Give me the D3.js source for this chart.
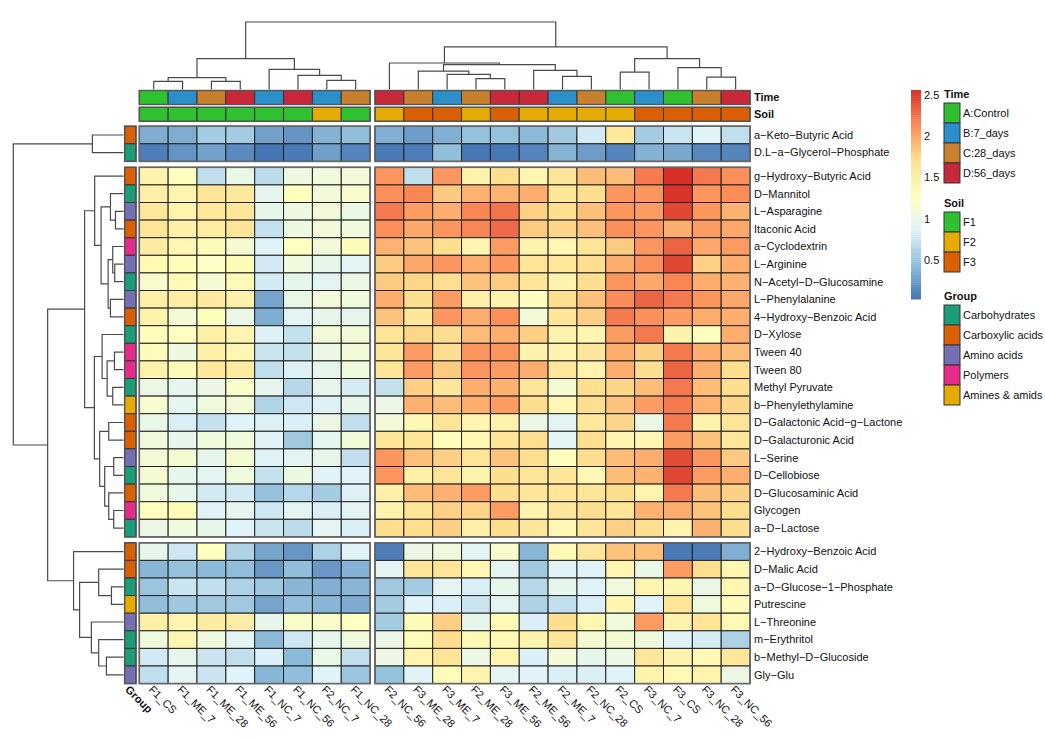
<!DOCTYPE html>
<html>
<head>
<meta charset="utf-8">
<script src="https://cdn.jsdelivr.net/npm/d3@7"></script>
<style>
  body { margin: 0; background: #fff; }
  text { font-family: "Liberation Sans", Arial, sans-serif; fill: #111; }
</style>
</head>
<body>
<svg id="chart" width="1045" height="740"></svg>
<script>
// ---- data -------------------------------------------------------------
const samples = ["F1_CS","F1_ME_7","F1_ME_28","F1_ME_56","F1_NC_7","F1_NC_56","F2_NC_7","F1_NC_28",
  "F2_NC_56","F3_ME_28","F3_ME_7","F2_ME_28","F3_ME_56","F2_ME_56","F2_ME_7","F2_NC_28","F2_CS",
  "F3_NC_7","F3_CS","F3_NC_28","F3_NC_56"];
const sampleTime = ["A:Control","B:7_days","C:28_days","D:56_days","B:7_days","D:56_days","B:7_days","C:28_days",
  "D:56_days","C:28_days","B:7_days","C:28_days","D:56_days","D:56_days","B:7_days","C:28_days","A:Control",
  "B:7_days","A:Control","C:28_days","D:56_days"];
const sampleSoil = ["F1","F1","F1","F1","F1","F1","F2","F1",
  "F2","F3","F3","F2","F3","F2","F2","F2","F2","F3","F3","F3","F3"];

const substrates = ["a-Keto-Butyric Acid","D.L-a-Glycerol-Phosphate",
  "g-Hydroxy-Butyric Acid","D-Mannitol","L-Asparagine","Itaconic Acid","a-Cyclodextrin","L-Arginine",
  "N-Acetyl-D-Glucosamine","L-Phenylalanine","4-Hydroxy-Benzoic Acid","D-Xylose","Tween 40","Tween 80",
  "Methyl Pyruvate","b-Phenylethylamine","D-Galactonic Acid-g-Lactone","D-Galacturonic Acid","L-Serine",
  "D-Cellobiose","D-Glucosaminic Acid","Glycogen","a-D-Lactose",
  "2-Hydroxy-Benzoic Acid","D-Malic Acid","a-D-Glucose-1-Phosphate","Putrescine","L-Threonine",
  "m-Erythritol","b-Methyl-D-Glucoside","Gly-Glu"];
const substrateGroup = ["Carboxylic acids","Carbohydrates",
  "Carboxylic acids","Carbohydrates","Amino acids","Carboxylic acids","Polymers","Amino acids",
  "Carbohydrates","Amino acids","Carboxylic acids","Carbohydrates","Polymers","Polymers",
  "Carbohydrates","Amines & amids","Carboxylic acids","Carboxylic acids","Amino acids",
  "Carbohydrates","Carboxylic acids","Polymers","Carbohydrates",
  "Carboxylic acids","Carboxylic acids","Carbohydrates","Amines & amids","Amino acids",
  "Carbohydrates","Carbohydrates","Amino acids"];

// one row per substrate, one column per sample (same order as `samples`)
const values = [
  [0.35,0.35,0.55,0.55,0.28,0.20,0.38,0.45, 0.36,0.25,0.36,0.47,0.47,0.42,0.53,0.80,1.60,0.55,0.75,0.88,0.70],
  [0.08,0.20,0.28,0.15,0.03,0.06,0.27,0.12, 0.06,0.08,0.45,0.04,0.04,0.12,0.39,0.25,0.12,0.38,0.32,0.14,0.12],
  [1.45,1.30,0.70,1.00,0.68,1.05,1.08,1.10, 2.10,0.70,2.10,1.45,1.72,1.42,1.65,1.90,1.90,2.22,2.56,2.23,2.13],
  [1.50,1.45,1.65,1.60,0.95,1.30,1.10,1.20, 2.13,2.17,1.83,1.95,1.95,1.97,1.65,1.72,2.10,2.10,2.54,2.10,2.14],
  [1.63,1.45,1.63,1.63,0.97,1.05,1.10,1.00, 2.23,2.06,1.97,2.17,2.25,1.80,1.72,1.88,2.10,2.06,2.45,2.10,1.95],
  [1.65,1.48,1.55,1.65,0.72,1.05,1.10,1.08, 2.13,2.00,2.10,2.17,2.30,1.83,1.77,1.88,2.13,2.10,1.97,2.06,2.00],
  [1.55,1.40,1.35,1.15,0.87,1.28,1.10,1.33, 1.95,1.87,1.72,1.42,2.06,1.45,1.40,1.65,1.83,2.10,2.32,2.00,2.06],
  [1.38,1.35,1.25,1.35,0.80,1.07,0.97,0.90, 1.83,2.00,2.10,1.97,2.10,1.65,1.62,1.72,1.97,2.13,2.45,1.80,1.97],
  [1.20,1.37,1.15,1.38,0.80,0.97,0.92,1.02, 1.83,1.77,1.72,1.87,1.83,1.65,1.45,1.72,2.10,2.00,2.17,1.97,1.95],
  [1.50,1.53,1.58,1.48,0.30,1.00,1.10,1.08, 1.97,1.72,2.06,1.50,1.45,1.30,1.72,1.88,2.14,2.32,2.23,2.10,2.00],
  [1.47,1.12,1.32,1.02,0.35,0.90,0.98,0.96, 1.87,1.62,2.10,1.97,2.13,1.12,1.65,1.80,2.22,2.13,2.06,1.97,1.97],
  [1.32,1.28,1.50,1.43,0.86,0.72,1.10,1.12, 1.65,1.77,1.72,1.90,1.97,1.80,1.45,1.42,2.06,2.23,1.45,1.30,1.97],
  [1.35,1.05,1.50,1.42,0.76,0.72,1.02,1.12, 1.65,2.06,1.72,2.10,2.10,1.45,1.45,1.62,1.97,1.80,2.23,1.97,1.90],
  [1.47,1.35,1.60,1.55,0.70,0.85,0.96,1.08, 1.65,2.06,1.83,2.10,2.06,1.97,1.62,1.45,1.97,1.72,2.32,1.97,1.72],
  [1.02,0.95,1.02,1.22,0.95,0.65,0.96,0.82, 0.72,1.80,1.62,1.97,1.95,1.65,1.15,1.72,1.77,1.90,2.23,1.90,1.72],
  [1.17,0.94,1.08,1.12,0.62,0.78,0.86,0.98, 1.02,1.95,1.90,1.97,2.06,1.72,1.40,1.72,1.87,2.06,2.23,1.95,1.77],
  [1.00,0.84,0.73,0.87,0.85,0.84,1.02,0.70, 1.12,1.38,1.65,1.42,1.45,1.02,0.92,1.60,1.77,1.02,2.23,1.45,1.65],
  [1.08,0.97,1.08,1.08,0.89,0.53,0.93,1.12, 1.65,1.65,1.30,1.40,1.65,1.72,0.92,1.72,1.42,1.42,2.06,1.87,1.62],
  [1.12,1.15,0.97,1.15,0.87,0.92,0.97,0.70, 2.10,1.88,1.80,1.65,1.87,1.72,1.30,1.72,1.90,1.97,2.43,2.10,1.83],
  [1.15,0.97,0.92,1.08,0.72,1.05,0.87,0.87, 2.10,1.50,1.65,1.45,1.72,1.65,1.62,1.40,1.90,1.95,2.45,2.06,1.97],
  [1.08,0.97,0.80,0.80,0.48,0.65,0.55,0.86, 1.50,1.90,1.95,2.06,1.72,1.65,1.65,1.65,1.72,1.45,2.23,1.90,1.80],
  [1.30,1.33,0.87,0.95,0.78,0.92,0.84,0.92, 1.45,1.65,1.80,1.77,2.06,1.45,1.62,1.72,1.65,1.95,1.97,1.87,1.72],
  [1.02,1.08,0.97,0.87,0.76,0.68,0.92,0.84, 1.72,1.72,1.80,1.50,1.72,1.62,1.40,1.65,1.80,1.72,1.45,1.95,1.72],
  [0.97,0.78,1.30,0.60,0.30,0.22,0.60,0.87, 0.08,1.02,1.08,0.92,1.20,0.40,1.38,1.62,1.87,1.88,0.05,0.07,0.36],
  [0.40,0.47,0.42,0.45,0.23,0.45,0.23,0.38, 0.92,1.65,1.65,1.40,0.92,0.53,0.87,0.87,1.42,1.00,2.06,1.72,1.42],
  [0.50,0.76,0.70,0.60,0.52,0.40,0.36,0.40, 0.53,0.55,0.92,0.84,0.97,0.65,0.97,0.87,1.08,1.42,1.42,1.02,1.42],
  [0.45,0.52,0.53,0.53,0.30,0.45,0.40,0.34, 0.55,0.87,0.84,0.76,0.92,0.60,0.70,0.84,1.42,0.87,1.65,1.08,1.35],
  [1.50,1.44,1.55,1.53,0.97,1.22,1.22,1.27, 0.55,1.35,1.80,0.97,1.38,0.84,1.72,1.42,1.08,2.06,1.45,1.65,1.38],
  [1.08,1.42,1.08,0.92,0.42,0.78,0.97,1.08, 1.02,1.35,1.72,1.38,1.38,1.45,1.65,1.15,1.15,1.08,0.87,0.82,0.60],
  [0.80,0.97,0.76,0.70,0.84,0.42,1.00,0.70, 1.02,1.45,1.65,1.02,1.45,0.84,1.12,0.97,1.02,1.62,1.45,1.38,1.62],
  [0.70,0.92,0.76,0.87,0.40,0.45,0.87,0.50, 0.47,0.87,1.35,1.45,0.92,0.87,0.84,0.84,0.87,1.45,1.38,1.45,1.02]
];

// hierarchical clustering results: [height, left, right]; numbers are leaf indices
const colTree = [67,
  [30.7, [11.7, [8, 0, 1], [8, 2, 3]], [20, 4, [14, 5, [9, 6, 7]]]],
  [42.3,
    [26.3, 8, [24.7, [18.3, 9, [15, 10, [10.7, 11, 12]]], [19, 13, [13, 14, 15]]]],
    [30.7, [17.3, 16, 17], [21.7, 18, [12.3, 19, 20]]]]];
const rowTree = [109.7,
  [31, 0, 1],
  [75.5,
    [38.7,
      [28.7, 2, [22.3, [13, 3, [8, 4, 5]], [15.3, [10.7, 6, [8.7, 7, 8]], [13, 9, 10]]]],
      [29, [21.3, 11, [16.3, [9, 12, 13], [10.7, 14, 15]]],
           [23.7, [14.7, 16, 17], [18.7, [9.7, 18, 19], [14.7, 20, [9.7, 21, 22]]]]]],
    [49.7, 23, [43.7, [24.7, 24, [12, 25, 26]], [32, 27, [24.7, 28, [17, 29, 30]]]]]]];

const colGapsAfter = [8];
const rowGapsAfter = [2, 23];

const timeLevels = ["A:Control","B:7_days","C:28_days","D:56_days"];
const timeColors = ["#2fc12f","#2b8fca","#c9802e","#c8283a"];
const soilLevels = ["F1","F2","F3"];
const soilColors = ["#2fc12f","#e6ab02","#d95f02"];
const groupLevels = ["Carbohydrates","Carboxylic acids","Amino acids","Polymers","Amines & amids"];
const groupColors = ["#1b9e77","#d95f02","#7570b3","#e7298a","#e6ab02"];
const paletteStops = ["#4575B4","#91BFDB","#E0F3F8","#FFFFBF","#FEE090","#FC8D59","#D73027"];
const legendTicks = [0.5, 1, 1.5, 2, 2.5];

// ---- layout -----------------------------------------------------------
const svg = d3.select("#chart");
const cellW = 28.85, cellH = 17.6;
const x0 = 139.3, y0 = 126.2, colGap = 4.9, rowGap = 5.9;
const nCol = samples.length, nRow = substrates.length;
const minus = s => s.replace(/-/g, "\u2212");

const colX = j => x0 + j * cellW + colGapsAfter.filter(g => j >= g).length * colGap;
const rowY = i => y0 + i * cellH + rowGapsAfter.filter(g => i >= g).length * rowGap;

const extent = d3.extent(values.flat());
const color = d3.scaleLinear()
  .domain(paletteStops.map((_, k) => extent[0] + k * (extent[1] - extent[0]) / (paletteStops.length - 1)))
  .range(paletteStops)
  .interpolate(d3.interpolateRgb);

function blocks(n, gaps) {
  const cuts = [0, ...gaps, n];
  return d3.range(cuts.length - 1).map(k => [cuts[k], cuts[k + 1]]);
}
const colBlocks = blocks(nCol, colGapsAfter);
const rowBlocks = blocks(nRow, rowGapsAfter);

// ---- heatmap cells ----------------------------------------------------
const cells = svg.append("g");
values.forEach((row, i) => {
  row.forEach((v, j) => {
    cells.append("rect")
      .attr("x", colX(j)).attr("y", rowY(i))
      .attr("width", cellW).attr("height", cellH)
      .attr("fill", color(v))
      .attr("stroke", "#222").attr("stroke-width", 1);
  });
});
rowBlocks.forEach(([r0, r1]) => colBlocks.forEach(([c0, c1]) => {
  svg.append("rect")
    .attr("x", colX(c0)).attr("y", rowY(r0))
    .attr("width", colX(c1 - 1) + cellW - colX(c0))
    .attr("height", rowY(r1 - 1) + cellH - rowY(r0))
    .attr("fill", "none").attr("stroke", "#666").attr("stroke-width", 1.6);
}));

// ---- column annotations (Time, Soil) -----------------------------------
const timeColor = d3.scaleOrdinal(timeLevels, timeColors);
const soilColor = d3.scaleOrdinal(soilLevels, soilColors);
const annTracks = [
  { name: "Time", y: 90.5, h: 14, fill: j => timeColor(sampleTime[j]) },
  { name: "Soil", y: 107.3, h: 14, fill: j => soilColor(sampleSoil[j]) }
];
annTracks.forEach(t => {
  samples.forEach((s, j) => {
    svg.append("rect")
      .attr("x", colX(j)).attr("y", t.y).attr("width", cellW).attr("height", t.h)
      .attr("fill", t.fill(j)).attr("stroke", "#333").attr("stroke-width", 1);
  });
  colBlocks.forEach(([c0, c1]) => {
    svg.append("rect")
      .attr("x", colX(c0)).attr("y", t.y)
      .attr("width", colX(c1 - 1) + cellW - colX(c0)).attr("height", t.h)
      .attr("fill", "none").attr("stroke", "#555").attr("stroke-width", 1.4);
  });
  svg.append("text")
    .attr("x", 754).attr("y", t.y + t.h / 2).attr("dy", "0.35em")
    .attr("font-size", 11).attr("font-weight", "bold").text(t.name);
});

// ---- row annotation (Group) --------------------------------------------
const groupColor = d3.scaleOrdinal(groupLevels, groupColors);
const gx = 124.6, gw = 11.4;
substrates.forEach((s, i) => {
  svg.append("rect")
    .attr("x", gx).attr("y", rowY(i)).attr("width", gw).attr("height", cellH)
    .attr("fill", groupColor(substrateGroup[i])).attr("stroke", "#333").attr("stroke-width", 1);
});
rowBlocks.forEach(([r0, r1]) => {
  svg.append("rect")
    .attr("x", gx).attr("y", rowY(r0)).attr("width", gw)
    .attr("height", rowY(r1 - 1) + cellH - rowY(r0))
    .attr("fill", "none").attr("stroke", "#555").attr("stroke-width", 1.4);
});

// ---- labels -------------------------------------------------------------
svg.append("g").selectAll("text").data(substrates).join("text")
  .attr("x", 754).attr("y", (d, i) => rowY(i) + cellH / 2).attr("dy", "0.35em")
  .attr("font-size", 11).text(d => minus(d));

const labelTop = rowY(nRow - 1) + cellH + 4;
svg.append("g").selectAll("text").data(samples).join("text")
  .attr("transform", (d, j) => `translate(${colX(j) + cellW / 2 - 3},${labelTop}) rotate(45)`)
  .attr("dy", "0.35em").attr("font-size", 11).text(d => d);
svg.append("text")
  .attr("transform", `translate(${gx + gw / 2 - 3},${labelTop}) rotate(45)`)
  .attr("dy", "0.35em").attr("font-size", 11).attr("font-weight", "bold").text("Group");

// ---- dendrograms ----------------------------------------------------------
const treeG = svg.append("g").attr("fill", "none").attr("stroke", "#4a4a4a").attr("stroke-width", 1.2);
function drawTree(node, leafPos, hs, horizontal) {
  if (typeof node === "number") return { p: leafPos(node), h: 0 };
  const [h, a, b] = node;
  const A = drawTree(a, leafPos, hs, horizontal);
  const B = drawTree(b, leafPos, hs, horizontal);
  const d = horizontal
    ? `M${hs(A.h)},${A.p}H${hs(h)}V${B.p}H${hs(B.h)}`
    : `M${A.p},${hs(A.h)}V${hs(h)}H${B.p}V${hs(B.h)}`;
  treeG.append("path").attr("d", d);
  return { p: (A.p + B.p) / 2, h };
}
const colH = d3.scaleLinear().domain([0, colTree[0]]).range([89.5, 22]);
drawTree(colTree, j => colX(j) + cellW / 2, colH, false);
const rowH = d3.scaleLinear().domain([0, rowTree[0]]).range([123.5, 13.3]);
drawTree(rowTree, i => rowY(i) + cellH / 2, rowH, true);

// ---- legends ----------------------------------------------------------------
const barX = 911, barW = 10, barTop = 90, barBot = 299;
const barY = d3.scaleLinear().domain(extent).range([barBot, barTop]);
const nSteps = 100;
d3.range(nSteps).forEach(k => {
  const v0 = extent[0] + k * (extent[1] - extent[0]) / nSteps;
  const v1 = extent[0] + (k + 1) * (extent[1] - extent[0]) / nSteps;
  svg.append("rect")
    .attr("x", barX).attr("y", barY(v1)).attr("width", barW)
    .attr("height", barY(v0) - barY(v1) + 0.5)
    .attr("fill", color((v0 + v1) / 2));
});
svg.append("g").selectAll("text").data(legendTicks).join("text")
  .attr("x", barX + barW + 3).attr("y", d => barY(d)).attr("dy", "0.35em")
  .attr("font-size", 11).text(d => d);

const legendX = 944, boxW = 16, boxH = 20;
function keyLegend(title, levels, colors, top) {
  svg.append("text").attr("x", legendX).attr("y", top - 9).attr("dy", "0.35em")
    .attr("font-size", 11).attr("font-weight", "bold").text(title);
  levels.forEach((lv, k) => {
    svg.append("rect").attr("x", legendX).attr("y", top + k * boxH)
      .attr("width", boxW).attr("height", boxH)
      .attr("fill", colors[k]).attr("stroke", "#333").attr("stroke-width", 1);
    svg.append("text").attr("x", legendX + boxW + 3).attr("y", top + k * boxH + boxH / 2)
      .attr("dy", "0.35em").attr("font-size", 11).text(lv);
  });
}
keyLegend("Time", timeLevels, timeColors, 103);
keyLegend("Soil", soilLevels, soilColors, 212);
keyLegend("Group", groupLevels, groupColors, 305);
</script>
</body>
</html>
